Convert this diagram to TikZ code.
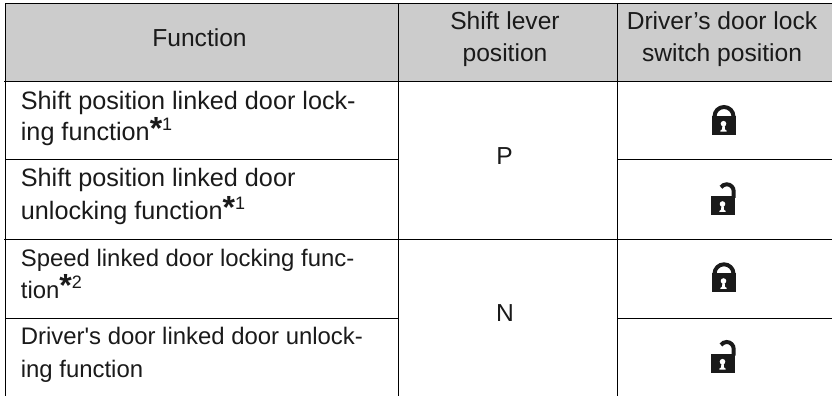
\documentclass[tikz,border=0pt]{standalone}
\usepackage{fontspec}
\newfontfamily\arialf{Liberation Sans}
\newfontfamily\starf{Liberation Sans Bold}
\definecolor{ink}{HTML}{1A1A1A}
\definecolor{headgray}{HTML}{CCCCCC}
\newcommand{\mystar}[1]{\raisebox{1.8pt}{\fontsize{32}{32}\selectfont\starf *}\raisebox{10.5pt}{\fontsize{18}{18}\selectfont #1}}
\newcommand{\keyholeshape}{%
    \fill[keyhole] (11.5pt,11pt) circle[radius=2.8pt];
    \fill[keyhole] (8.4pt,3pt) -- (14.6pt,3pt) -- (14.6pt,4pt) -- (12.8pt,5.5pt) -- (12.7pt,10pt) -- (10.3pt,10pt) -- (10.2pt,5.5pt) -- (8.4pt,4pt) -- cycle;
}
\tikzset{
  rule/.style={line width=1pt,color=black},
  textbase/.style={inner sep=0pt,text=ink},
  rowa/.style={textbase,anchor=base west,font=\fontsize{25.2}{31}\selectfont\arialf},
  rowb/.style={textbase,anchor=base west,font=\fontsize{23.9}{31}\selectfont\arialf},
  headtext/.style={textbase,anchor=base,font=\fontsize{24.6}{31}\selectfont\arialf},
  shackle/.style={line width=4pt,draw=ink,line cap=butt},
  lockbody/.style={fill=ink,draw=none},
  keyhole/.style={fill=white,draw=none},
  pics/closedlock/.style={code={
    \fill[lockbody] (0,0) rectangle (24pt,18.5pt);
    \draw[shackle] (2.5pt,17pt) -- (2.5pt,18.2pt) arc[start angle=180,end angle=0,radius=9.5pt] -- (21.5pt,17pt);
    \keyholeshape
  }},
  pics/openlock/.style={code={
    \fill[lockbody] (0,0) rectangle (24pt,18.7pt);
    \draw[shackle] (22.7pt,17pt) -- (22.7pt,23.7pt) arc[start angle=0,end angle=145,radius=7pt];
    \keyholeshape
  }}
}
\begin{document}
\begin{tikzpicture}[x=1pt,y=1pt]
\useasboundingbox (0,0) rectangle (832,396);
\fill[white] (0,0) rectangle (832,396);
\fill[headgray] (5,314) rectangle (832,392.5);
% rules
\draw[rule] (5,392.5) -- (832,392.5);
\draw[rule] (4,314) -- (832,314);
\draw[rule] (5,236) -- (398,236);
\draw[rule] (617.3,236) -- (832,236);
\draw[rule] (4,156.7) -- (832,156.7);
\draw[rule] (5,77.7) -- (398,77.7);
\draw[rule] (617.3,77.7) -- (832,77.7);
\draw[rule] (5,392.5) -- (5,0);
\draw[rule] (398.3,392.5) -- (398.3,0);
\draw[rule] (617.3,392.5) -- (617.3,0);
% header
\node[headtext] (hfunc) at (199.5,349.3) {Function};
\node[headtext] (hshifta) at (505,366) {Shift lever};
\node[headtext] (hshiftb) at (505,334) {position};
\node[headtext] (hdoora) at (722,366) {Driver’s door lock};
\node[headtext] (hdoorb) at (722,334) {switch position};
% function column
\node[rowa] (ra) at (20.7,286.7) {Shift position linked door lock-};
\node[rowa] (rb) at (20.7,255) {ing function\mystar{1}};
\node[rowa] (rc) at (20.7,209.3) {Shift position linked door};
\node[rowa] (rd) at (20.7,176) {unlocking function\mystar{1}};
\node[rowb] (re) at (20.7,129.3) {Speed linked door locking func-};
\node[rowb] (rf) at (20.7,97.3) {tion\mystar{2}};
\node[rowb] (rg) at (20.7,51) {Driver's door linked door unlock-};
\node[rowb] (rh) at (20.7,18.3) {ing function};
% shift column
\node[headtext] (pp) at (504.5,231) {P};
\node[headtext] (pn) at (505,74.7) {N};
% locks
\pic at (712,261.3) {closedlock};
\pic at (711,181) {openlock};
\pic at (712,104) {closedlock};
\pic at (711,23.3) {openlock};
\end{tikzpicture}
\end{document}
